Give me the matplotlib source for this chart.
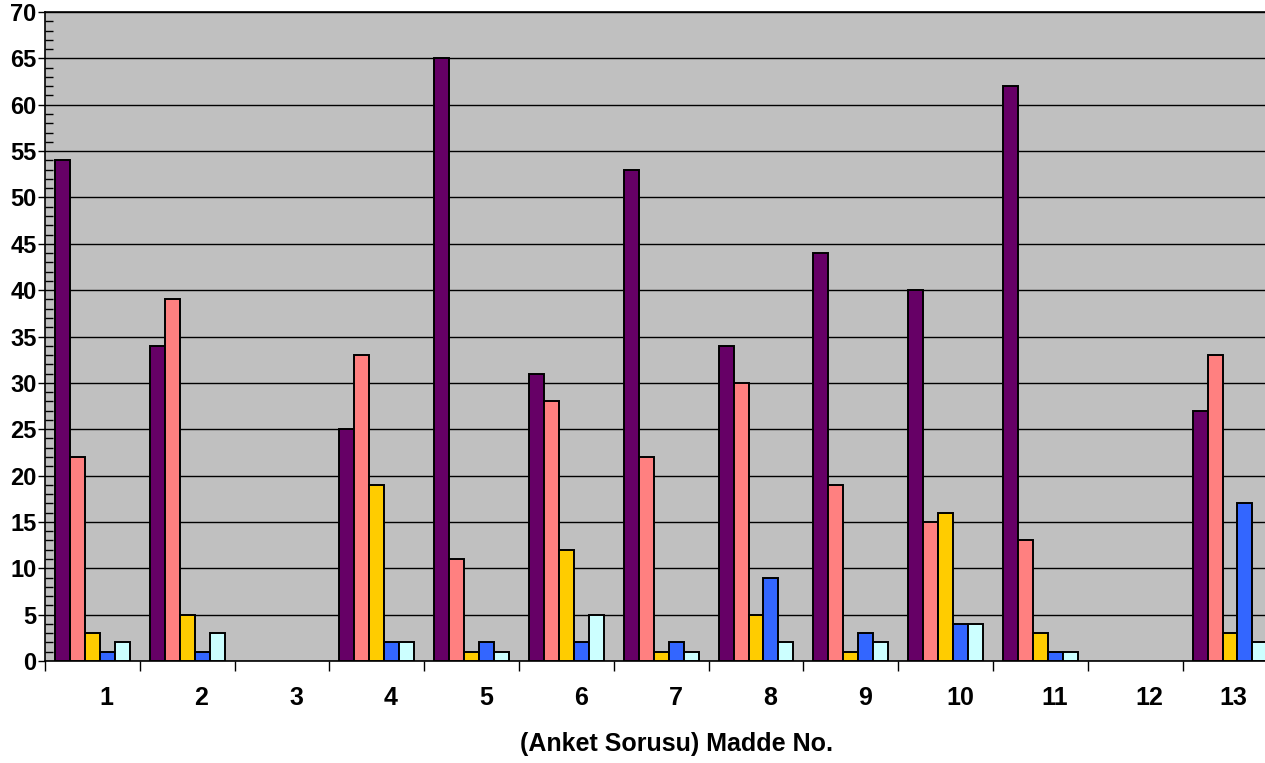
import matplotlib
matplotlib.use("Agg")
import matplotlib.pyplot as plt
import numpy as np
from matplotlib.ticker import MultipleLocator, FixedLocator, NullFormatter

categories = ["1", "2", "3", "4", "5", "6", "7", "8", "9", "10", "11", "12", "13"]
series_purple = [54, 34, 0, 25, 65, 31, 53, 34, 44, 40, 62, 0, 27]
series_pink   = [22, 39, 0, 33, 11, 28, 22, 30, 19, 15, 13, 0, 33]
series_yellow = [3, 5, 0, 19, 1, 12, 1, 5, 1, 16, 3, 0, 3]
series_blue   = [1, 1, 0, 2, 2, 2, 2, 9, 3, 4, 1, 0, 17]
series_cyan   = [2, 3, 0, 2, 1, 5, 1, 2, 2, 4, 1, 0, 2]
x_title = "(Anket Sorusu) Madde No."

series = [series_purple, series_pink, series_yellow, series_blue, series_cyan]
colors = ["#660066", "#FF8080", "#FFCC00", "#3366FF", "#CCFFFF"]

plt.rcParams['font.family'] = ['Liberation Sans', 'DejaVu Sans']

W, H = 1265, 763
fig = plt.figure(figsize=(W / 100, H / 100), dpi=100)
ax = fig.add_axes([45 / W, 102 / H, 1220 / W, 649 / H])
ax.set_facecolor("#C0C0C0")

n = len(categories)
x = np.arange(n)
bw = 0.158
off0 = 0.105
for j, (vals, c) in enumerate(zip(series, colors)):
    v = np.array(vals, dtype=float)
    v[v == 0] = np.nan
    ax.bar(x + off0 + j * bw, v, width=bw, align='edge', color=c,
           edgecolor='black', linewidth=1.4, zorder=3)

ax.set_xlim(0, 1220 / 94.8)
ax.set_ylim(0, 70)

# y axis
ax.yaxis.set_major_locator(MultipleLocator(5))
ax.yaxis.set_minor_locator(MultipleLocator(1))
ax.grid(axis='y', which='major', color='black', linewidth=1.0, zorder=1)
ax.tick_params(axis='y', which='major', direction='out', length=5, width=1,
               labelsize=17, pad=1)
ax.tick_params(axis='y', which='minor', direction='in', length=6, width=1)
for lab in ax.get_yticklabels():
    lab.set_fontweight('bold')

# x axis
ax.xaxis.set_major_locator(FixedLocator(np.arange(0, n)))
ax.xaxis.set_major_formatter(NullFormatter())
label_pos = [i + 0.65 for i in range(n - 1)] + [n - 1 + 0.53]
ax.xaxis.set_minor_locator(FixedLocator(label_pos))
ax.set_xticklabels(categories, minor=True, fontsize=18, fontweight='bold')
ax.tick_params(axis='x', which='major', direction='out', length=7, width=1)
ax.tick_params(axis='x', which='minor', length=0, pad=18)

for s in ['left', 'bottom', 'top']:
    ax.spines[s].set_color('black')
    ax.spines[s].set_linewidth(1.2)
ax.spines['right'].set_visible(False)

fig.text(676 / W, 1 - 744 / H, x_title, ha='center', va='center',
         fontsize=18, fontweight='bold')

fig.savefig("out.png", dpi=100, facecolor='white')
